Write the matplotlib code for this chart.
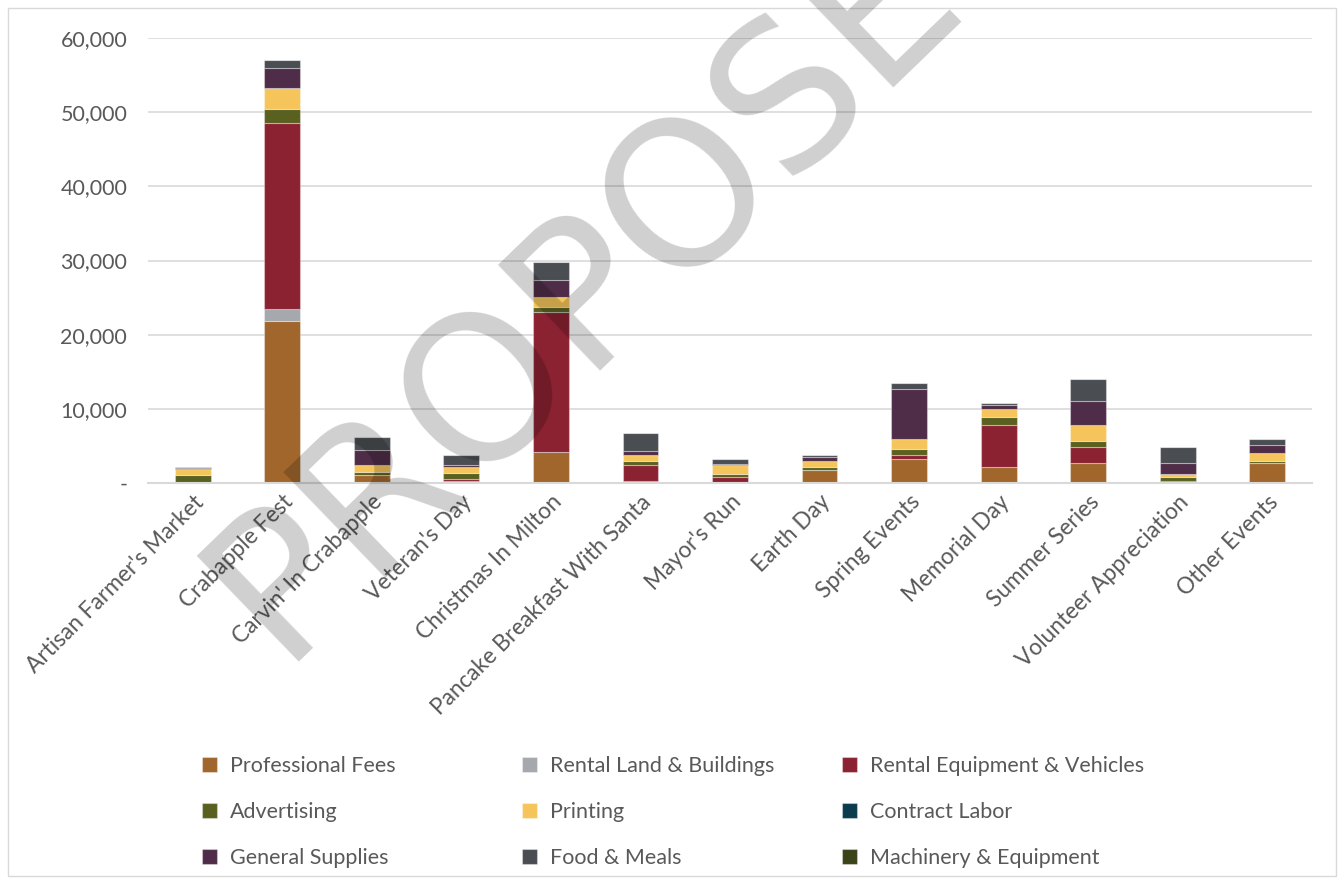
import matplotlib
matplotlib.use("Agg")
import matplotlib.pyplot as plt
from matplotlib.patches import Rectangle
from matplotlib.ticker import FuncFormatter
import numpy as np

plt.rcParams['font.family'] = ['Lato', 'DejaVu Sans']

categories = ["Artisan Farmer's Market", "Crabapple Fest", "Carvin' In Crabapple", "Veteran's Day",
              "Christmas In Milton", "Pancake Breakfast With Santa", "Mayor's Run", "Earth Day",
              "Spring Events", "Memorial Day", "Summer Series", "Volunteer Appreciation", "Other Events"]

professional_fees  = [0, 21880, 1040, 270, 4180, 310, 120, 1800, 3280, 2160, 2700, 60, 2650]
rental_land        = [0, 1580, 0, 0, 0, 0, 0, 0, 0, 0, 0, 0, 0]
rental_equipment   = [0, 25080, 0, 220, 18830, 2070, 730, 0, 540, 5660, 2160, 220, 0]
advertising        = [1040, 1870, 500, 810, 760, 580, 380, 360, 760, 1080, 810, 580, 310]
printing           = [810, 2790, 900, 850, 1350, 850, 1170, 810, 1350, 1080, 2160, 310, 1120]
contract_labor     = [0, 0, 0, 0, 0, 0, 0, 0, 0, 0, 0, 0, 0]
general_supplies   = [230, 2700, 2070, 270, 2200, 490, 220, 540, 6740, 580, 3240, 1530, 1030]
food_meals         = [100, 1080, 1710, 1350, 2430, 2430, 580, 310, 810, 270, 2970, 2200, 850]
machinery          = [0, 0, 0, 0, 0, 0, 0, 0, 0, 0, 0, 0, 0]

series_names = ["Professional Fees", "Rental Land & Buildings", "Rental Equipment & Vehicles",
                "Advertising", "Printing", "Contract Labor",
                "General Supplies", "Food & Meals", "Machinery & Equipment"]
series_values = [professional_fees, rental_land, rental_equipment, advertising, printing,
                 contract_labor, general_supplies, food_meals, machinery]
colors = ["#A0662C", "#A5A8AC", "#8B2232", "#5A6120", "#F5C55B", "#0B3C4D",
          "#4F2D48", "#4A4E52", "#3B4318"]

fig = plt.figure(figsize=(13.44, 8.84), dpi=100)
ax = fig.add_axes([148/1344, 1-483/884, 1164/1344, 445/884])

x = np.arange(len(categories))
bottom = np.zeros(len(categories))
handles = []
for name, vals, col in zip(series_names, series_values, colors):
    v = np.array(vals, dtype=float)
    b = ax.bar(x, v, 0.4, bottom=bottom, color=col, edgecolor=(1, 1, 1, 0.35),
               linewidth=0.8, label=name, zorder=3)
    handles.append(b)
    bottom += v

ax.set_xlim(-0.5, len(categories) - 0.5)
ax.set_ylim(0, 60000)
ax.set_yticks(np.arange(0, 60001, 10000))
ax.yaxis.set_major_formatter(FuncFormatter(lambda v, p: "-" if v == 0 else f"{int(v):,}"))
ax.grid(axis='y', color='#d9d9d9', linewidth=1.2, zorder=0)
for s in ['top', 'right', 'left']:
    ax.spines[s].set_visible(False)
ax.spines['bottom'].set_color('#d9d9d9')
ax.spines['bottom'].set_linewidth(1.5)
ax.spines['bottom'].set_zorder(4)
ax.tick_params(axis='y', length=0, pad=15, labelsize=15.5, labelcolor='#595959')
ax.tick_params(axis='x', length=0, pad=6, labelsize=16.3, labelcolor='#595959')
ax.set_xticks(x)
ax.set_xticklabels(categories, rotation=45, ha='right', rotation_mode='anchor')

# legend: three columns placed at fixed positions
col_x = [202/1344, 522/1344, 842/1344]
for c in range(3):
    idx = [c, c + 3, c + 6]
    fig.legend([handles[i] for i in idx], [series_names[i] for i in idx],
               loc='upper left', bbox_to_anchor=(col_x[c], 1-756/884),
               frameon=False, fontsize=15.5, labelcolor='#595959',
               handlelength=0.7, handleheight=0.7, handletextpad=0.6,
               labelspacing=1.2, borderpad=0, borderaxespad=0)

# watermark
fig.text(640/1344, 1-236/884, "PROPOSED", fontsize=145, rotation=44,
         color=(0, 0, 0, 0.19), ha='center', va='center', zorder=10,
         family='DejaVu Sans')

# chart border
fig.patches.append(Rectangle((8/1344, 8/884), 1328/1344, 868/884, transform=fig.transFigure,
                             fill=False, edgecolor='#d9d9d9', linewidth=1))

fig.savefig("out.png", dpi=100)
